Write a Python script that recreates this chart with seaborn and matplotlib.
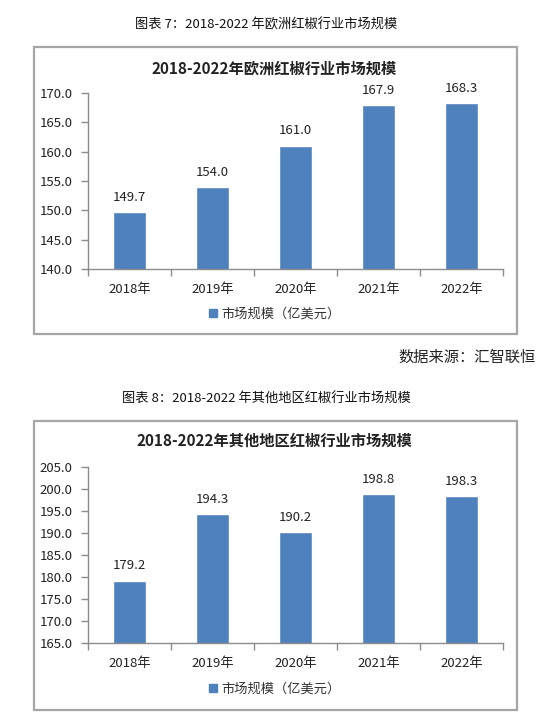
import matplotlib
matplotlib.use("Agg")
import matplotlib.pyplot as plt
import seaborn as sns
import pandas as pd
from matplotlib.patches import Rectangle
from matplotlib.lines import Line2D

sns.set_theme(style="white")
plt.rcParams['font.family'] = ['Noto Sans CJK SC', 'DejaVu Sans']

years = ["2018年", "2019年", "2020年", "2021年", "2022年"]
europe_values = [149.7, 154.0, 161.0, 167.9, 168.3]
other_values = [179.2, 194.3, 190.2, 198.8, 198.3]
europe_ticks = [140.0, 145.0, 150.0, 155.0, 160.0, 165.0, 170.0]
other_ticks = [165.0, 170.0, 175.0, 180.0, 185.0, 190.0, 195.0, 200.0, 205.0]
caption1 = "图表 7：2018-2022 年欧洲红椒行业市场规模"
caption2 = "图表 8：2018-2022 年其他地区红椒行业市场规模"
title1 = "2018-2022年欧洲红椒行业市场规模"
title2 = "2018-2022年其他地区红椒行业市场规模"
legend_label = "市场规模（亿美元）"
source = "数据来源：汇智联恒"

W, H = 546, 719
BAR = "#4F81BD"
fig = plt.figure(figsize=(W / 100, H / 100), dpi=100)
fig.patch.set_facecolor("white")

def fx(px):
    return px / W

def fy(py):
    return 1 - py / H

def draw_chart(values, ticks, caption, title, cap_y, box_top, box_bot,
               title_y, ax_top, ax_bot, leg_y):
    fig.text(fx(266), fy(cap_y), caption, ha="center", va="center",
             fontsize=9.5, color="#111111")
    fig.patches.append(Rectangle((fx(34), fy(box_bot)), fx(517) - fx(34),
                                 fy(box_top) - fy(box_bot),
                                 transform=fig.transFigure, fill=False,
                                 edgecolor="#A6A6A6", linewidth=1.6))
    fig.text(fx(274), fy(title_y), title, ha="center", va="center",
             fontsize=11, fontweight="bold", color="#222222")
    ax = fig.add_axes([fx(88), fy(ax_bot), fx(503) - fx(88),
                       fy(ax_top) - fy(ax_bot)])
    df = pd.DataFrame({"year": years, "value": values})
    sns.barplot(data=df, x="year", y="value", color=BAR, width=0.4,
                saturation=1, ax=ax)
    ax.set_ylim(ticks[0], ticks[-1])
    ax.set_xlim(-0.5, len(years) - 0.5)
    ax.set_yticks(ticks)
    ax.set_yticklabels([f"{t:.1f}" for t in ticks])
    ax.set_xlabel("")
    ax.set_ylabel("")
    ax.set_facecolor("none")
    for s in ["top", "right"]:
        ax.spines[s].set_visible(False)
    for s in ["left", "bottom"]:
        ax.spines[s].set_color("#8C8C8C")
        ax.spines[s].set_linewidth(1.0)
    ax.tick_params(axis="y", which="major", left=True, length=5, width=1,
                   color="#8C8C8C", labelsize=9.5, labelcolor="#222222", pad=6)
    ax.tick_params(axis="x", which="major", bottom=False, labelsize=9.5,
                   labelcolor="#222222", pad=4)
    ax.set_xticks([i - 0.5 for i in range(len(years) + 1)], minor=True)
    ax.tick_params(axis="x", which="minor", bottom=True, length=5, width=1,
                   color="#8C8C8C")
    for i, v in enumerate(values):
        ax.annotate(f"{v:.1f}", (i, v), xytext=(0, 6),
                    textcoords="offset points", ha="center", va="bottom",
                    fontsize=9.5, color="#222222")
    handle = Line2D([], [], marker="s", linestyle="none", markersize=6,
                    markerfacecolor=BAR, markeredgecolor=BAR)
    fig.legend([handle], [legend_label], loc="center",
               bbox_to_anchor=(fx(274), fy(leg_y)), frameon=False,
               fontsize=9.5, handletextpad=0.2, handlelength=0.8,
               labelcolor="#333333")
    return ax

draw_chart(europe_values, europe_ticks, caption1, title1, 25, 47, 334,
           68, 93, 269, 314)
fig.text(fx(536), fy(357), source, ha="right", va="center", fontsize=11,
         color="#222222")
draw_chart(other_values, other_ticks, caption2, title2, 399, 421, 710,
           441, 467, 643, 689)

fig.savefig("out.png", dpi=100, facecolor="white")
